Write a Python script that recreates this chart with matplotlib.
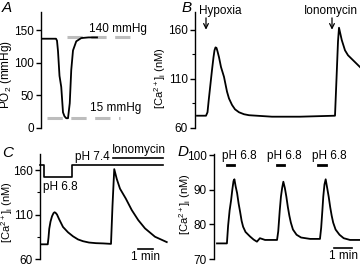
import matplotlib
matplotlib.use("Agg")
from matplotlib import pyplot as plt
from matplotlib.ticker import FixedLocator

plt.rcParams['font.family'] = ['Liberation Sans', 'DejaVu Sans']
plt.rcParams['font.size'] = 8.5
plt.rcParams['axes.labelsize'] = 8
plt.rcParams['mathtext.fontset'] = 'custom'
plt.rcParams['mathtext.rm'] = 'Liberation Sans'
plt.rcParams['mathtext.it'] = 'Liberation Sans:italic'

# panel A: PO2 during hypoxia (time in s)
a_time = [4, 60, 64, 68, 74, 81, 88, 94, 101, 108, 115, 121, 128, 141, 161, 190, 224]
a_po2 = [137, 137, 134, 118, 80, 63, 24, 18, 15, 15, 38, 89, 119, 133, 138, 139, 139]
a_levels = [140, 15]
a_level_text = ["140 mmHg", "15 mmHg"]

# panel B: Ca response to hypoxia, then ionomycin
b_time = [8, 44, 50, 55, 62, 68, 74, 78, 82, 86, 90, 96, 104, 116, 128, 136, 148, 160,
          176, 196, 216, 308, 420, 560, 566, 572, 576, 587, 600, 612, 632, 652, 668]
b_ca = [72.5, 72.5, 76, 88.6, 105, 119, 132, 139, 142, 141.5, 138, 132, 122, 112, 97,
        90, 83.5, 79, 76, 74, 73, 71.5, 71.5, 72.5, 110, 148, 162, 149.5, 139, 134, 129,
        124, 120]

# panel C: Ca response to pH 6.8, then ionomycin
c_time = [0, 31, 34, 37, 42, 48, 54, 58, 62, 68, 76, 84, 92, 102, 112, 132, 152, 172,
          196, 224, 254, 284, 290, 297, 307, 320, 343, 367, 393, 420, 460, 507]
c_ca = [76.5, 76.5, 84, 94, 102, 108, 111.5, 112.5, 112, 110, 105, 100.5, 96, 93, 90,
        85.5, 82, 80, 78.5, 77.8, 77.5, 77, 120, 161, 150, 139, 128, 115, 103.7, 94.4,
        85, 79]
c_ph_time = [0, 17, 17, 128, 128, 492]
c_ph_level = [165.6, 165.6, 151.9, 151.9, 165.6, 165.6]
c_iono = [292, 492]

# panel D: repeated pH 6.8 pulses
d_time = [10, 43, 47, 52, 57, 61, 65, 68, 72, 77, 82, 87, 92, 97, 105, 120, 132, 143,
          153, 170, 187, 210, 214, 219, 223, 227, 231, 236, 241, 246, 251, 256, 263, 275,
          290, 305, 320, 340, 353, 357, 361, 364, 368, 372, 377, 382, 387, 392, 397, 405,
          418, 432, 453, 490]
d_ca = [74.5, 74.5, 79.6, 84, 87, 90, 92.5, 93, 91, 89, 86, 83.6, 81, 79.3, 77.8, 76.5,
        75.6, 75, 76, 75.5, 75.5, 75.5, 78, 84, 88, 90.5, 92.3, 90.5, 88, 85, 82.5, 80.5,
        78.5, 77, 76.2, 76, 75.8, 75.8, 75.8, 79, 84, 88, 91.5, 93, 90.5, 88, 85, 82.5,
        80.5, 78.5, 77, 76, 75.5, 75.5]
d_pulses = [(43, 67), (210, 233), (347, 373)]
d_pulse_centers = [83, 235, 385]

W, H = 360, 266
fig = plt.figure(figsize=(W / 100, H / 100), dpi=100)


def make_axes(left, right, top, bottom):
    ax = fig.add_axes([left / W, 1 - bottom / H, (right - left) / W, (bottom - top) / H])
    for s in ["top", "right", "bottom"]:
        ax.spines[s].set_visible(False)
    ax.spines["left"].set_linewidth(1.0)
    ax.set_xticks([])
    ax.tick_params(axis="y", direction="out", length=3.5, width=1.0, pad=1.5)
    ax.tick_params(axis="y", which="minor", direction="out", length=2, width=0.8)
    ax.patch.set_alpha(0)
    return ax


ca_label = r"[Ca$^{2+}$]$_\mathregular{i}$ (nM)"

# A
ax = make_axes(41, 141, 12, 128)
ax.set_xlim(0, 400)
ax.set_ylim(0, 178)
ax.set_yticks([0, 50, 100, 150])
ax.plot([104, 384], [a_levels[0]] * 2, color="#bdbdbd", lw=2.2, ls=(0, (5, 2.8)))
ax.plot([24, 316], [a_levels[1]] * 2, color="#bdbdbd", lw=2.2, ls=(0, (5, 2.8)))
ax.plot(a_time, a_po2, color="k", lw=1.3)
ax.text(308, 152, a_level_text[0], ha="center", va="center")
ax.text(300, 31, a_level_text[1], ha="center", va="center")
ax.set_ylabel(r"PO$_2$ (mmHg)", fontsize=8.5)
ax.yaxis.set_label_coords(-0.265, 0.46)

# B
ax = make_axes(195, 362, 12, 128)
ax.set_xlim(0, 668)
ax.set_ylim(60, 178)
ax.set_yticks([60, 110, 160])
ax.yaxis.set_minor_locator(FixedLocator([85, 135]))
ax.plot(b_time, b_ca, color="k", lw=1.3)
ax.annotate("", xy=(44, 160), xytext=(44, 172),
            arrowprops=dict(arrowstyle="->", lw=0.9, color="k", shrinkA=0, shrinkB=0))
ax.annotate("", xy=(548, 160), xytext=(548, 172),
            arrowprops=dict(arrowstyle="->", lw=0.9, color="k", shrinkA=0, shrinkB=0))
ax.text(100, 179, "Hypoxia", ha="center", va="center", clip_on=False)
ax.text(544, 179, "Ionomycin", ha="center", va="center", clip_on=False)
ax.set_ylabel(ca_label)
ax.yaxis.set_label_coords(-0.16, 0.43)

# C
ax = make_axes(40, 168, 154, 259)
ax.set_xlim(0, 512)
ax.set_ylim(60, 178)
ax.set_yticks([60, 110, 160])
ax.yaxis.set_minor_locator(FixedLocator([85, 135]))
ax.plot(c_time, c_ca, color="k", lw=1.3)
ax.plot(c_ph_time, c_ph_level, color="k", lw=1.2, clip_on=False)
ax.plot(c_iono, [173.7, 173.7], color="k", lw=1.2, clip_on=False)
ax.text(80, 141, "pH 6.8", ha="center", va="center")
ax.text(208, 174.5, "pH 7.4", ha="center", va="center", clip_on=False)
ax.text(396, 182, "Ionomycin", ha="center", va="center", clip_on=False)
ax.plot([392, 452], [71, 71], color="k", lw=1.2)
ax.text(422, 62.5, "1 min", ha="center", va="center", clip_on=False)
ax.set_ylabel(ca_label)
ax.yaxis.set_label_coords(-0.195, 0.45)

# D
ax = make_axes(214, 362, 154, 259)
ax.set_xlim(0, 493)
ax.set_ylim(70, 100.3)
ax.set_yticks([70, 80, 90, 100])
ax.plot(d_time, d_ca, color="k", lw=1.3)
for (t0, t1), tc in zip(d_pulses, d_pulse_centers):
    ax.plot([t0, t1], [97.2, 97.2], color="k", lw=2)
    ax.text(tc, 99.6, "pH 6.8", ha="center", va="center", clip_on=False)
ax.plot([400, 460], [73.1, 73.1], color="k", lw=1.2)
ax.text(432, 71, "1 min", ha="center", va="center", clip_on=False)
ax.set_ylabel(ca_label)
ax.yaxis.set_label_coords(-0.145, 0.52)

for letter, x, y in [("A", 2, 1), ("B", 182, 1), ("C", 2, 146), ("D", 178, 145)]:
    fig.text(x / W, 1 - y / H, letter, ha="left", va="top", fontsize=11, style="italic")

fig.savefig("out.png", dpi=100)
